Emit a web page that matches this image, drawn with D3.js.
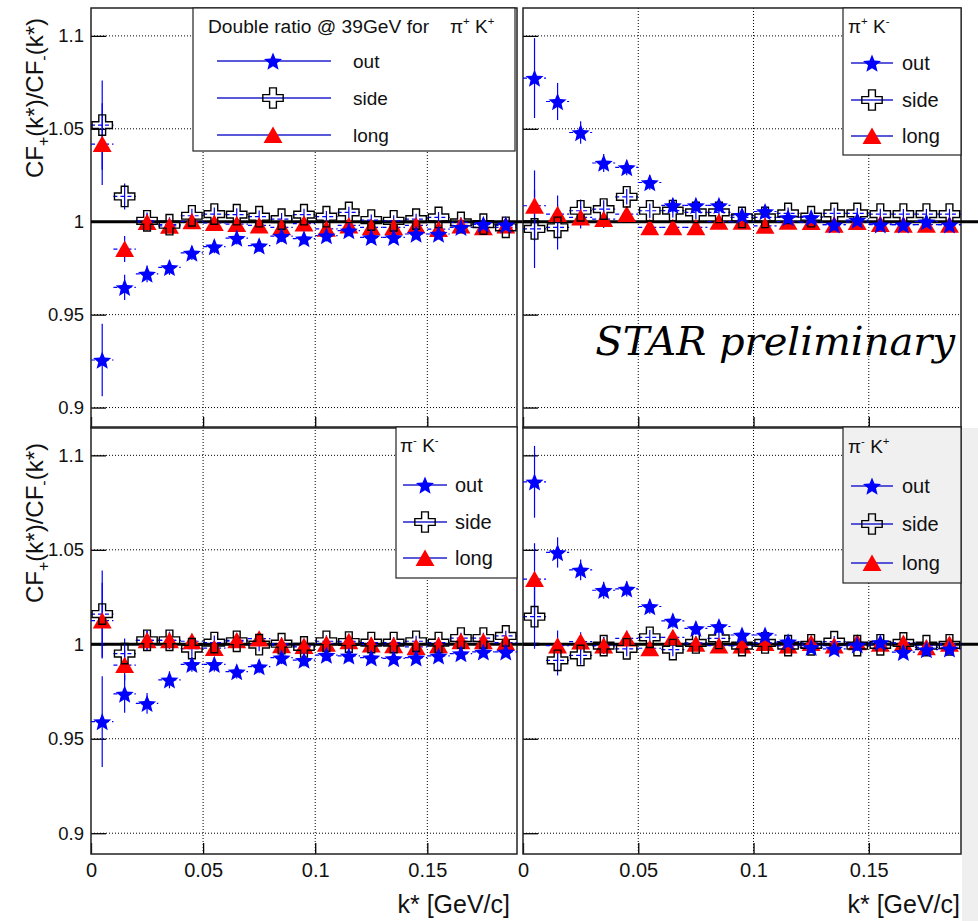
<!DOCTYPE html>
<html>
<head>
<meta charset="utf-8">
<title>Double ratio @ 39GeV</title>
<script src="https://d3js.org/d3.v7.min.js"></script>
<style>
  body { margin: 0; background: #fff; }
</style>
</head>
<body>
<div id="chart"></div>
<script>

// bin centres of k* (GeV/c), bins are 0.01 wide
const kstar = [0.005, 0.015, 0.025, 0.035, 0.045, 0.055, 0.065, 0.075, 0.085, 0.095,
               0.105, 0.115, 0.125, 0.135, 0.145, 0.155, 0.165, 0.175, 0.185];
const binHalf = 0.005;
const xTicks = [0, 0.05, 0.1, 0.15];
const xTickLabels = ["0", "0.05", "0.1", "0.15"];
const yTicks = [0.9, 0.95, 1, 1.05, 1.1];
const yTickLabels = ["0.9", "0.95", "1", "1.05", "1.1"];
const seriesNames = ["out", "side", "long"];

// pi+ K+
const pipKp_out = [0.9256, 0.9647, 0.9719, 0.9754, 0.9832, 0.9866, 0.9912, 0.9871, 0.9923, 0.9909,
                   0.9925, 0.9952, 0.9916, 0.9916, 0.9934, 0.9934, 0.9970, 0.9987, 0.9984];
const pipKp_outErr = [0.0195, 0.0068, 0.0045, 0.0040, 0.0038, 0.0036, 0.0035, 0.0034, 0.0033, 0.0032,
                      0.0031, 0.0030, 0.0030, 0.0030, 0.0029, 0.0029, 0.0028, 0.0028, 0.0028];
const pipKp_side = [1.0520, 1.0136, 1.0005, 0.9984, 1.0032, 1.0041, 1.0038, 1.0027, 1.0014, 1.0038,
                    1.0027, 1.0050, 1.0009, 1.0005, 1.0014, 1.0023, 0.9996, 0.9987, 0.9970];
const pipKp_sideErr = [0.0240, 0.0070, 0.0045, 0.0040, 0.0038, 0.0036, 0.0035, 0.0034, 0.0033, 0.0032,
                       0.0031, 0.0030, 0.0030, 0.0030, 0.0029, 0.0029, 0.0028, 0.0028, 0.0028];
const pipKp_long = [1.0418, 0.9853, 0.9998, 0.9978, 1.0002, 0.9993, 0.9987, 0.9980, 0.9970, 0.9990,
                    0.9962, 0.9980, 0.9970, 0.9970, 0.9980, 0.9960, 0.9980, 0.9970, 0.9980];
const pipKp_longErr = [0.0220, 0.0070, 0.0045, 0.0040, 0.0038, 0.0036, 0.0035, 0.0034, 0.0033, 0.0032,
                       0.0031, 0.0030, 0.0030, 0.0030, 0.0029, 0.0029, 0.0028, 0.0028, 0.0028];

// pi+ K-
const pipKm_out = [1.0773, 1.0647, 1.0480, 1.0316, 1.0292, 1.0211, 1.0088, 1.0088, 1.0088, 1.0035,
                   1.0055, 1.0023, 1.0023, 0.9984, 1.0009, 0.9984, 0.9984, 1.0000, 0.9984];
const pipKm_outErr = [0.0215, 0.0100, 0.0060, 0.0048, 0.0042, 0.0039, 0.0037, 0.0035, 0.0034, 0.0033,
                      0.0032, 0.0031, 0.0030, 0.0030, 0.0029, 0.0029, 0.0028, 0.0028, 0.0028];
const pipKm_side = [0.9961, 0.9970, 1.0059, 1.0068, 1.0134, 1.0059, 1.0060, 1.0050, 1.0050, 1.0023,
                    1.0023, 1.0045, 1.0027, 1.0045, 1.0045, 1.0041, 1.0041, 1.0041, 1.0041];
const pipKm_sideErr = [0.0210, 0.0120, 0.0060, 0.0048, 0.0042, 0.0039, 0.0037, 0.0035, 0.0034, 0.0033,
                       0.0032, 0.0031, 0.0030, 0.0030, 0.0029, 0.0029, 0.0028, 0.0028, 0.0028];
const pipKm_long = [1.0086, 1.0041, 1.0023, 1.0014, 1.0041, 0.9970, 0.9970, 0.9970, 1.0000, 1.0000,
                    0.9978, 1.0000, 0.9998, 0.9984, 0.9998, 0.9988, 0.9984, 0.9984, 0.9984];
const pipKm_longErr = [0.0190, 0.0100, 0.0060, 0.0048, 0.0042, 0.0039, 0.0037, 0.0035, 0.0034, 0.0033,
                       0.0032, 0.0031, 0.0030, 0.0030, 0.0029, 0.0029, 0.0028, 0.0028, 0.0028];

// pi- K-
const pimKm_out = [0.9591, 0.9737, 0.9687, 0.9812, 0.9894, 0.9894, 0.9855, 0.9882, 0.9929, 0.9916,
                   0.9943, 0.9939, 0.9929, 0.9925, 0.9929, 0.9939, 0.9951, 0.9960, 0.9960];
const pimKm_outErr = [0.0240, 0.0100, 0.0055, 0.0045, 0.0040, 0.0038, 0.0036, 0.0035, 0.0034, 0.0033,
                      0.0032, 0.0031, 0.0030, 0.0030, 0.0029, 0.0029, 0.0028, 0.0028, 0.0028];
const pimKm_side = [1.0160, 0.9951, 1.0021, 1.0021, 0.9977, 1.0009, 1.0016, 0.9998, 1.0003, 0.9986,
                    1.0016, 1.0012, 1.0009, 1.0009, 1.0016, 1.0009, 1.0033, 1.0033, 1.0044];
const pimKm_sideErr = [0.0230, 0.0080, 0.0050, 0.0045, 0.0040, 0.0038, 0.0036, 0.0035, 0.0034, 0.0033,
                       0.0032, 0.0031, 0.0030, 0.0030, 0.0029, 0.0029, 0.0028, 0.0028, 0.0028];
const pimKm_long = [1.0125, 0.9890, 1.0021, 1.0021, 1.0016, 0.9980, 1.0021, 1.0030, 0.9995, 0.9991,
                    1.0003, 1.0016, 0.9998, 0.9995, 0.9986, 0.9995, 1.0016, 1.0016, 1.0009];
const pimKm_longErr = [0.0200, 0.0080, 0.0050, 0.0045, 0.0040, 0.0038, 0.0036, 0.0035, 0.0034, 0.0033,
                       0.0032, 0.0031, 0.0030, 0.0030, 0.0029, 0.0029, 0.0028, 0.0028, 0.0028];

// pi- K+
const pimKp_out = [1.0860, 1.0486, 1.0394, 1.0286, 1.0293, 1.0200, 1.0124, 1.0084, 1.0094, 1.0049,
                   1.0049, 1.0014, 0.9984, 0.9976, 0.9997, 1.0010, 0.9958, 0.9972, 0.9976];
const pimKp_outErr = [0.0190, 0.0080, 0.0055, 0.0045, 0.0040, 0.0038, 0.0036, 0.0035, 0.0034, 0.0033,
                      0.0032, 0.0031, 0.0030, 0.0030, 0.0029, 0.0029, 0.0028, 0.0028, 0.0028];
const pimKp_side = [1.0146, 0.9915, 0.9941, 0.9993, 0.9976, 1.0037, 0.9972, 1.0007, 1.0031, 0.9993,
                    1.0007, 0.9993, 0.9997, 1.0014, 0.9993, 0.9997, 1.0007, 0.9993, 0.9997];
const pimKp_sideErr = [0.0170, 0.0080, 0.0050, 0.0045, 0.0040, 0.0038, 0.0036, 0.0035, 0.0034, 0.0033,
                       0.0032, 0.0031, 0.0030, 0.0030, 0.0029, 0.0029, 0.0028, 0.0028, 0.0028];
const pimKp_long = [1.0345, 0.9993, 1.0014, 0.9993, 1.0031, 0.9979, 1.0037, 1.0002, 0.9993, 0.9993,
                    1.0007, 0.9993, 1.0007, 0.9993, 1.0010, 1.0002, 1.0007, 0.9984, 1.0002];
const pimKp_longErr = [0.0190, 0.0080, 0.0050, 0.0045, 0.0040, 0.0038, 0.0036, 0.0035, 0.0034, 0.0033,
                       0.0032, 0.0031, 0.0030, 0.0030, 0.0029, 0.0029, 0.0028, 0.0028, 0.0028];

const W = 978, H = 921;
const blue = "#0000ff", red = "#ff0000";
const sans = "'Liberation Sans', Arial, Helvetica, sans-serif";

const svg = d3.select("#chart").append("svg")
    .attr("width", W).attr("height", H)
    .style("font-family", sans);

svg.append("rect").attr("width", W).attr("height", H).attr("fill", "#fff");
// grey canvas edge at bottom right
svg.append("rect").attr("x", 962).attr("y", 428).attr("width", 16).attr("height", H - 428).attr("fill", "#efefef");

// panel layout + legends
const panels = [
  { x0: 91, x1: 517, y0: 8, y1: 428, pion: "+", kaon: "+",
    out: pipKp_out, outErr: pipKp_outErr, side: pipKp_side, sideErr: pipKp_sideErr, long: pipKp_long, longErr: pipKp_longErr,
    yLabels: true, xLabels: false,
    legend: { x0: 193, x1: 515, y0: 8, y1: 151, fill: "#fff", title: "Double ratio @ 39GeV for", titleX: 208, titleY: 33,
              pX: 450, rows: [61, 98, 135], l0: 217, l1: 331, m: 273, tx: 353, fs: 19 } },
  { x0: 523, x1: 961, y0: 8, y1: 428, pion: "+", kaon: "-",
    out: pipKm_out, outErr: pipKm_outErr, side: pipKm_side, sideErr: pipKm_sideErr, long: pipKm_long, longErr: pipKm_longErr,
    yLabels: false, xLabels: false,
    legend: { x0: 843, x1: 961, y0: 8, y1: 155, fill: "#fff", pX: 848, titleY: 33,
              rows: [63, 100, 136], l0: 851, l1: 893, m: 872, tx: 902, fs: 20 } },
  { x0: 91, x1: 517, y0: 427, y1: 854, pion: "-", kaon: "-",
    out: pimKm_out, outErr: pimKm_outErr, side: pimKm_side, sideErr: pimKm_sideErr, long: pimKm_long, longErr: pimKm_longErr,
    yLabels: true, xLabels: true,
    legend: { x0: 396, x1: 517, y0: 427, y1: 578, fill: "#fff", pX: 400, titleY: 452,
              rows: [485, 522, 558], l0: 403, l1: 447, m: 425, tx: 455, fs: 20 } },
  { x0: 523, x1: 961, y0: 427, y1: 854, pion: "-", kaon: "+",
    out: pimKp_out, outErr: pimKp_outErr, side: pimKp_side, sideErr: pimKp_sideErr, long: pimKp_long, longErr: pimKp_longErr,
    yLabels: false, xLabels: true,
    legend: { x0: 843, x1: 961, y0: 427, y1: 583, fill: "#f0f0f0", pX: 848, titleY: 453,
              rows: [486, 524, 563], l0: 851, l1: 893, m: 872, tx: 902, fs: 20 } }
];

// ROOT-like fat five point star
function starPath(ro, ri) {
  const pts = [];
  for (let k = 0; k < 10; k++) {
    const r = k % 2 ? ri : ro;
    const a = -Math.PI / 2 + k * Math.PI / 5;
    pts.push([r * Math.cos(a), r * Math.sin(a)]);
  }
  return "M" + pts.map(q => q[0].toFixed(2) + "," + q[1].toFixed(2)).join("L") + "Z";
}
const starD = starPath(9.5, 4.2);
const crossD = d3.symbol().type(d3.symbolCross).size(230)();
const triD = d3.symbol().type(d3.symbolTriangle).size(155)();

function drawMarker(g, kind, px, py) {
  if (kind === "out") {
    g.append("path").attr("d", starD).attr("transform", `translate(${px},${py + 1})`).attr("fill", blue);
  } else if (kind === "side") {
    g.append("path").attr("d", crossD).attr("transform", `translate(${px},${py})`)
      .attr("fill", "none").attr("stroke", "#000").attr("stroke-width", 1.4);
  } else {
    g.append("path").attr("d", triD).attr("transform", `translate(${px},${py + 2.5})`).attr("fill", red);
  }
}

function particles(g, x, y, pc, kc, fs) {
  const t = g.append("text").attr("x", x).attr("y", y).attr("font-size", fs).attr("fill", "#111");
  t.append("tspan").text("π");
  t.append("tspan").attr("dy", -8).attr("font-size", fs * 0.6).text(pc === "-" ? "-" : "+");
  t.append("tspan").attr("dy", 8).text(" K");
  t.append("tspan").attr("dy", -8).attr("font-size", fs * 0.6).text(kc === "-" ? "-" : "+");
}

function drawPanel(p) {
  const x = d3.scaleLinear().domain([0, 0.19]).range([p.x0, p.x1]);
  const y = d3.scaleLinear().domain([0.889, 1.115]).range([p.y1, p.y0]);
  const g = svg.append("g");

  // dotted grid
  g.selectAll(".gx").data(xTicks.filter(t => t > 0)).join("line")
      .attr("x1", d => x(d)).attr("x2", d => x(d)).attr("y1", p.y0).attr("y2", p.y1)
      .attr("stroke", "#000").attr("stroke-width", 1).attr("stroke-dasharray", "1,2");
  g.selectAll(".gy").data(yTicks.filter(t => t !== 1)).join("line")
      .attr("x1", p.x0).attr("x2", p.x1).attr("y1", d => y(d)).attr("y2", d => y(d))
      .attr("stroke", "#000").attr("stroke-width", 1).attr("stroke-dasharray", "1,2");

  // axes, ticks pointing inwards
  const yAxis = d3.axisLeft(y).tickValues(yTicks).tickSize(-15).tickPadding(7)
      .tickFormat((d, i) => p.yLabels ? yTickLabels[i] : "");
  g.append("g").attr("transform", `translate(${p.x0},0)`).call(yAxis)
      .attr("font-size", 18.5).attr("font-family", sans)
      .call(a => a.select(".domain").remove())
      .call(a => a.selectAll("line").attr("stroke-width", 1.3))
      .call(a => a.selectAll("text").attr("fill", "#111"));

  const xAxis = d3.axisBottom(x).tickValues(xTicks).tickSize(-11).tickPadding(9)
      .tickFormat((d, i) => p.xLabels ? xTickLabels[i] : "");
  g.append("g").attr("transform", `translate(0,${p.y1})`).call(xAxis)
      .attr("font-size", 20).attr("font-family", sans)
      .call(a => a.select(".domain").remove())
      .call(a => a.selectAll("line").attr("stroke-width", 1.3))
      .call(a => a.selectAll("text").attr("fill", "#111"));

  g.append("rect").attr("x", p.x0).attr("y", p.y0)
      .attr("width", p.x1 - p.x0).attr("height", p.y1 - p.y0)
      .attr("fill", "none").attr("stroke", "#222").attr("stroke-width", 1.5);

  // reference line at 1
  g.append("line").attr("x1", x(0)).attr("x2", x(0.2)).attr("y1", y(1)).attr("y2", y(1))
      .attr("stroke", "#000").attr("stroke-width", 3);

  // error bars for all three series
  seriesNames.forEach(s => {
    const vals = p[s], errs = p[s + "Err"];
    const eg = g.append("g").attr("stroke", blue).attr("stroke-width", 1.2);
    eg.selectAll(".ex").data(kstar).join("line")
        .attr("x1", d => x(d - binHalf)).attr("x2", d => x(d + binHalf))
        .attr("y1", (d, i) => y(vals[i])).attr("y2", (d, i) => y(vals[i]))
        .attr("stroke-dasharray", "4,3");
    eg.selectAll(".ey").data(kstar).join("line")
        .attr("x1", d => x(d)).attr("x2", d => x(d))
        .attr("y1", (d, i) => y(vals[i] - errs[i])).attr("y2", (d, i) => y(vals[i] + errs[i]));
  });

  // markers: long, side, out
  ["long", "side", "out"].forEach(s => {
    const mg = g.append("g");
    p[s].forEach((v, i) => drawMarker(mg, s, x(kstar[i]), y(v)));
  });

  // legend
  const L = p.legend;
  const lg = svg.append("g");
  lg.append("rect").attr("x", L.x0).attr("y", L.y0).attr("width", L.x1 - L.x0).attr("height", L.y1 - L.y0)
      .attr("fill", L.fill).attr("stroke", "#222").attr("stroke-width", 1.2);
  if (L.title) {
    lg.append("text").attr("x", L.titleX).attr("y", L.titleY).attr("font-size", 19.2).attr("fill", "#111").text(L.title);
  }
  particles(lg, L.pX, L.titleY, p.pion, p.kaon, 19);
  seriesNames.forEach((s, i) => {
    const ry = L.rows[i];
    lg.append("line").attr("x1", L.l0).attr("x2", L.l1).attr("y1", ry).attr("y2", ry)
        .attr("stroke", "#2222cc").attr("stroke-width", 1.5);
    drawMarker(lg, s, L.m, ry);
    lg.append("text").attr("x", L.tx).attr("y", ry).attr("dy", "0.35em")
        .attr("font-size", L.fs).attr("fill", "#111").text(s);
  });
}

panels.forEach(drawPanel);

// y axis titles
function yTitle(yTop) {
  const t = svg.append("text").attr("transform", `translate(43,${yTop}) rotate(-90)`)
      .attr("text-anchor", "end").attr("font-size", 24).attr("fill", "#111");
  t.append("tspan").text("CF");
  t.append("tspan").attr("dy", 6).attr("font-size", 16).text("+");
  t.append("tspan").attr("dy", -6).text("(k*)/CF");
  t.append("tspan").attr("dy", 6).attr("font-size", 16).text("-");
  t.append("tspan").attr("dy", -6).text("(k*)");
}
yTitle(18);
yTitle(443);

// x axis titles
[510, 960].forEach(xe => {
  svg.append("text").attr("x", xe).attr("y", 913).attr("text-anchor", "end")
      .attr("font-size", 25).attr("fill", "#111").text("k* [GeV/c]");
});

svg.append("text").attr("x", 955).attr("y", 355).attr("text-anchor", "end")
    .style("font-family", "'DejaVu Serif', serif").style("font-style", "italic")
    .attr("font-size", 40).attr("fill", "#000").text("STAR preliminary");

</script>
</body>
</html>
